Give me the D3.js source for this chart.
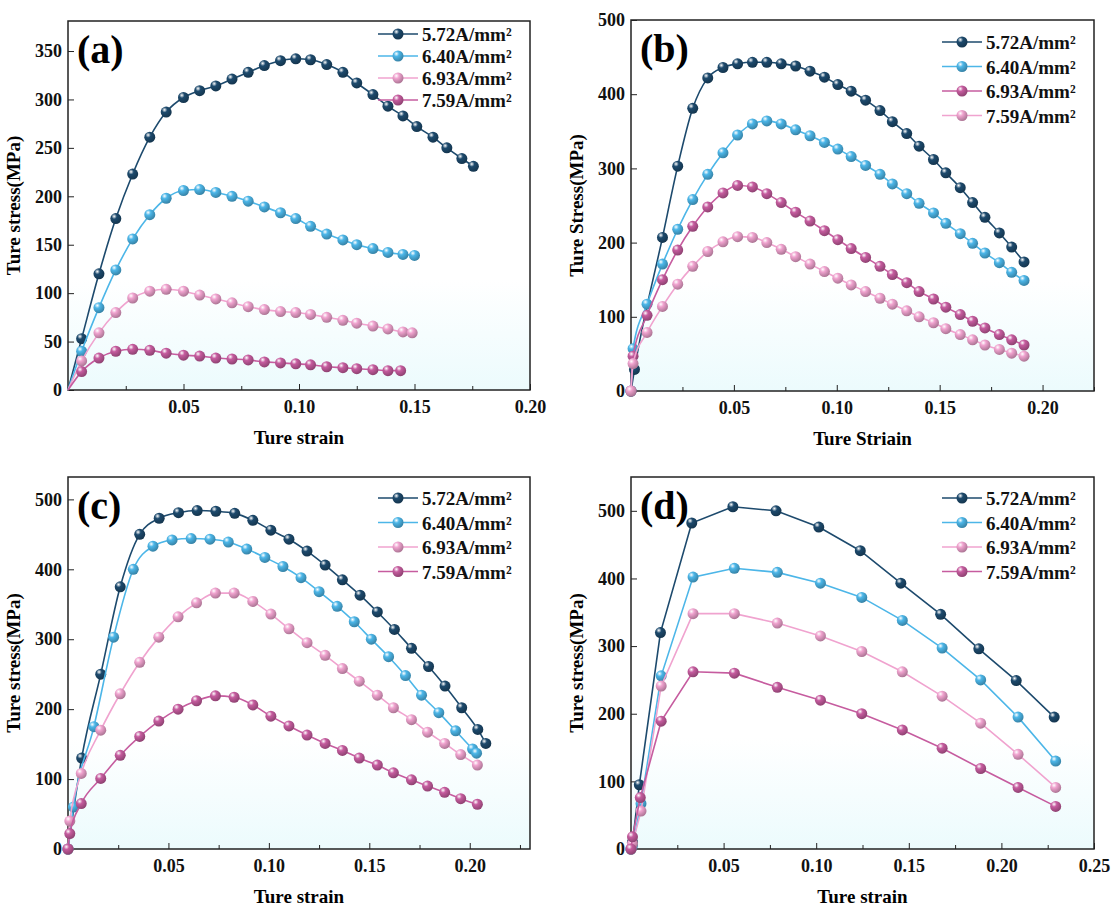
<!DOCTYPE html>
<html><head><meta charset="utf-8">
<script src="https://cdn.jsdelivr.net/npm/d3@7"></script>
<style>body{margin:0;background:#fff}text{font-family:"Liberation Serif","Times New Roman",serif;font-weight:bold}</style>
</head><body><svg id="fig" width="1119" height="912"></svg>
<script>
// legend labels and colours
const labels = ["5.72A/mm²", "6.40A/mm²", "6.93A/mm²", "7.59A/mm²"];
const navy = "#1d4a6d", sky = "#4cb6e8", pink = "#f0a3cf", plum = "#c65c9f";

// (a)
const aX = [0.0059,0.0134,0.0207,0.028,0.0354,0.0425,0.05,0.057,0.064,0.071,0.078,0.085,0.092,0.0986,0.105,0.112,0.119,0.125,0.132,0.1385,0.145];
const a572x = aX.concat([0.151,0.158,0.164,0.1705,0.1755]);
const a572y = [53,120,177,223,261,287,302,309,314,321,328,335,340,342,341,336,328,317,305,293,283,272,261,250,239,231];
const a640x = aX.concat([0.15]);
const a640y = [40,85,124,156,181,198,206,207,204,200,195,189,183,177,169,161,155,150,146,142,140,139];
const a693x = aX.concat([0.149]);
const a693y = [30,59,80,95,102,104,102,98,94,90,86,83,81,80,78,75,72,69,66,63,60,59];
const a759x = aX.slice(0,20).concat([0.144]);
const a759y = [19,33,40,42,41,38,36,35,33,32,31,29,28,27,26,24,23,22,21,20,20];

// (b)
const bX = [0.0078,0.0153,0.0227,0.030,0.0373,0.0447,0.0518,0.059,0.066,0.073,0.080,0.087,0.094,0.1005,0.107,0.114,0.121,0.127,0.134,0.140,0.147,0.153,0.160,0.166,0.172,0.179,0.185,0.191];
const b572x = [0.0017].concat(bX.slice(1));
const b572y = [29,207,303,381,422,436,441,443,443,441,438,431,423,413,404,392,378,363,347,330,312,294,274,254,234,213,194,174];
const b640x = [0.001].concat(bX);
const b640y = [57,117,171,218,258,292,321,345,360,364,360,352,344,335,326,316,304,292,279,266,253,240,226,212,199,186,173,160,149];
const b693x = [0.001].concat(bX);
const b693y = [47,102,150,190,222,248,267,277,275,266,254,241,229,216,204,192,180,168,157,146,134,124,113,103,94,85,76,69,62];
const b759x = [0.001].concat(bX);
const b759y = [37,79,114,144,168,188,201,208,207,200,191,181,171,161,152,143,134,125,117,108,100,92,84,76,69,62,56,51,47];

// (c)
const c572x = [0.0068,0.0163,0.026,0.0357,0.0454,0.055,0.0643,0.0736,0.083,0.092,0.101,0.110,0.119,0.128,0.1366,0.1454,0.154,0.1625,0.171,0.1795,0.1877,0.196,0.204,0.208];
const c572y = [130,250,375,450,473,481,484,483,480,470,456,443,426,406,385,363,339,314,287,261,233,202,171,151];
const c640x = [0.0027,0.0129,0.0227,0.0325,0.0423,0.0518,0.0613,0.0707,0.0798,0.089,0.098,0.107,0.116,0.125,0.134,0.1425,0.151,0.1596,0.168,0.176,0.1846,0.193,0.2014,0.2034];
const c640y = [60,175,303,400,433,442,444,443,439,429,417,404,388,368,347,325,300,275,248,220,195,169,143,137];
const cX = [0.0009,0.0066,0.0163,0.026,0.0357,0.0452,0.0548,0.064,0.0734,0.0827,0.092,0.101,0.110,0.119,0.128,0.1366,0.145,0.154,0.162,0.171,0.179,0.1875,0.1955,0.2038];
const c693y = [40,108,170,222,267,303,332,352,366,366,354,336,315,295,277,258,240,220,202,185,167,151,135,120];
const c759y = [22,65,101,134,161,183,200,212,219,217,206,190,176,163,151,141,130,120,109,99,90,81,72,64];

// (d)
const dX = [0.0163,0.0335,0.0558,0.079,0.1023,0.1246,0.1465,0.168,0.1888,0.209,0.2293];
const d572x = [0.0008,0.0045,0.0159,0.0328,0.055,0.0783,0.1014,0.1238,0.1457,0.1672,0.1878,0.208,0.2285];
const d572y = [10,95,320,482,506,500,476,441,393,347,296,249,195];
const d640x = [0.0008,0.0054].concat(dX);
const d640y = [5,67,256,402,415,409,393,372,338,297,250,195,130];
const d693x = [0.0008,0.0054].concat(dX);
const d693y = [8,56,241,348,348,334,315,292,262,226,186,140,91];
const d759x = [0.0008,0.005].concat(dX);
const d759y = [18,76,189,262,260,239,220,200,176,149,119,91,63];

const zip = (xs, ys) => [[0,0]].concat(xs.map((x,i) => [x, ys[i]]));

const panels = [
  {tag:"(a)", box:[68,21,530,390], xd:[0,0.20], yd:[0,381], yt:d3.range(0,351,50), xt:[0.05,0.10,0.15,0.20],
   ylab:"Ture stress(MPa)", xlab:"Ture strain", curve:d3.curveMonotoneX, origin:false, leg:[13,22],
   series:[[a572x,a572y,navy],[a640x,a640y,sky],[a693x,a693y,pink],[a759x,a759y,plum]]},
  {tag:"(b)", box:[631,20,1094,391], xd:[0,0.225], yd:[0,500], yt:d3.range(0,501,100), xt:[0.05,0.10,0.15,0.20],
   ylab:"Ture Stress(MPa)", xlab:"Ture Striain", curve:d3.curveMonotoneX, origin:true, leg:[22,24.5],
   series:[[b572x,b572y,navy],[b640x,b640y,sky],[b693x,b693y,plum],[b759x,b759y,pink]]},
  {tag:"(c)", box:[68,477,530,849], xd:[0,0.23], yd:[0,532], yt:d3.range(0,501,100), xt:[0.05,0.10,0.15,0.20],
   ylab:"Ture stress(MPa)", xlab:"Ture strain", curve:d3.curveMonotoneX, origin:true, leg:[21,24.5],
   series:[[c572x,c572y,navy],[c640x,c640y,sky],[cX,c693y,pink],[cX,c759y,plum]]},
  {tag:"(d)", box:[631,477,1094,849], xd:[0,0.25], yd:[0,550], yt:d3.range(0,501,100), xt:[0.05,0.10,0.15,0.20,0.25],
   ylab:"Ture stress(MPa)", xlab:"Ture strain", curve:d3.curveLinear, origin:true, leg:[21,24.5],
   series:[[d572x,d572y,navy],[d640x,d640y,sky],[d693x,d693y,pink],[d759x,d759y,plum]]}
];

const svg = d3.select("#fig");
const defs = svg.append("defs");
const bg = defs.append("linearGradient").attr("id","bg").attr("x1",0).attr("y1",0).attr("x2",0).attr("y2",1);
bg.append("stop").attr("offset","0%").attr("stop-color","#fff");
bg.append("stop").attr("offset","70%").attr("stop-color","#fff");
bg.append("stop").attr("offset","100%").attr("stop-color","#ecfbfd");
[navy,sky,pink,plum].forEach((c,i) => {
  const g = defs.append("radialGradient").attr("id","ball"+i).attr("cx","35%").attr("cy","30%").attr("r","70%");
  g.append("stop").attr("offset","0%").attr("stop-color","#fff");
  g.append("stop").attr("offset","35%").attr("stop-color",c);
  g.append("stop").attr("offset","100%").attr("stop-color",d3.color(c).darker(0.9));
});
const ballId = c => "url(#ball" + [navy,sky,pink,plum].indexOf(c) + ")";

panels.forEach(p => {
  const [l,t,r,b] = p.box;
  const x = d3.scaleLinear(p.xd, [l,r]);
  const y = d3.scaleLinear(p.yd, [b,t]);
  const g = svg.append("g");
  g.append("rect").attr("x",l).attr("y",t).attr("width",r-l).attr("height",b-t).attr("fill","url(#bg)");

  // ticks inward
  g.append("g").attr("transform",`translate(0,${b})`)
    .call(d3.axisBottom(x).tickValues(p.xt).tickSize(-6).tickPadding(10).tickFormat(d3.format(".2f")))
    .call(s => s.select(".domain").remove()).selectAll("text").attr("font-size",18).attr("fill","#111");
  g.append("g").attr("transform",`translate(0,${b})`)
    .call(d3.axisBottom(x).tickValues(d3.range(0.025,p.xd[1]+1e-9,0.05)).tickSize(-4).tickFormat(""))
    .call(s => s.select(".domain").remove());
  g.append("g").attr("transform",`translate(${l},0)`)
    .call(d3.axisLeft(y).tickValues(p.yt).tickSize(-6).tickPadding(6))
    .call(s => s.select(".domain").remove()).selectAll("text").attr("font-size",18).attr("fill","#111");
  g.selectAll(".tick line").attr("stroke","#222");
  g.append("rect").attr("x",l).attr("y",t).attr("width",r-l).attr("height",b-t)
    .attr("fill","none").attr("stroke","#222").attr("stroke-width",1.5);

  g.append("text").attr("x",(l+r)/2).attr("y",b+54).attr("text-anchor","middle").attr("font-size",19).text(p.xlab);
  g.append("text").attr("transform",`translate(${l-48},${(t+b)/2}) rotate(-90)`).attr("text-anchor","middle")
    .attr("font-size",19).text(p.ylab);
  g.append("text").attr("x",l+9).attr("y",t+42).attr("font-size",40).text(p.tag);

  const line = d3.line().x(d => x(d[0])).y(d => y(d[1])).curve(p.curve);
  p.series.forEach(([xs,ys,c]) => {
    const pts = zip(xs,ys);
    g.append("path").attr("d",line(pts)).attr("fill","none").attr("stroke",c).attr("stroke-width",1.6);
    g.selectAll(null).data(p.origin ? pts : pts.slice(1)).join("circle")
      .attr("cx",d => x(d[0])).attr("cy",d => y(d[1])).attr("r",5.5).attr("fill",ballId(c));
  });

  // legend
  const lx = r - 152, ly = t + p.leg[0];
  p.series.forEach(([xs,ys,c],i) => {
    const yy = ly + i*p.leg[1];
    g.append("line").attr("x1",lx).attr("x2",lx+40).attr("y1",yy).attr("y2",yy).attr("stroke",c).attr("stroke-width",1.6);
    g.append("circle").attr("cx",lx+20).attr("cy",yy).attr("r",5.5).attr("fill",ballId(c));
    g.append("text").attr("x",lx+44).attr("y",yy+7).attr("font-size",19).attr("fill","#111").text(labels[i]);
  });
});
</script></body></html>
